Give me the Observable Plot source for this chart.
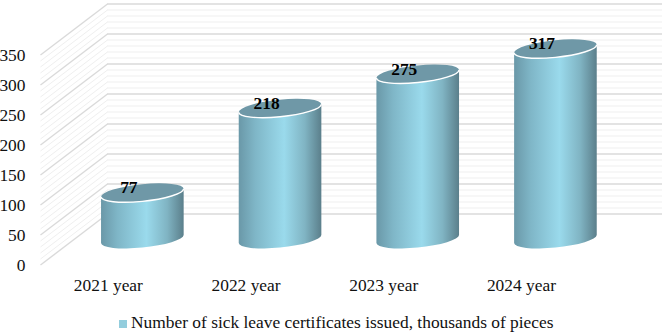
<!DOCTYPE html>
<html>
<head>
<meta charset="utf-8">
<script src="https://cdn.jsdelivr.net/npm/d3@7"></script>
<script src="https://cdn.jsdelivr.net/npm/@observablehq/plot@0.6"></script>
<style>
  html, body { margin: 0; padding: 0; background: #fff; }
  #legend { font: 17.4px "Liberation Serif", serif; color: #111; height: 28px; line-height: 28px; padding-top: 3px; white-space: nowrap; padding-left: 119px; }
  #legend i { display: inline-block; width: 8px; height: 8px; background: #93cddd; margin-right: 4px; vertical-align: 0; }
</style>
</head>
<body>
<div id="chart"></div>
<div id="legend"><i></i>Number of sick leave certificates issued, thousands of pieces</div>
<script>
const years = [2021, 2022, 2023, 2024];
const values = [77, 218, 275, 317];
const legendLabel = "Number of sick leave certificates issued, thousands of pieces";
const majorTicks = [0, 50, 100, 150, 200, 250, 300, 350];
const minorTicks = d3.range(0, 351, 10).filter(v => v % 50 !== 0);

// The oblique projection: half the wall depth expressed in each scale's units.
const halfDepthYears = 0.2433;
const halfDepthValue = 42.5;
const halfDepthPx = 25.5;

const rows = years.map((year, i) => ({year, value: values[i]}));
const domainX = [2020.2567, 2024.774];
const wallFront = domainX[0];
const wallBack = wallFront + 2 * halfDepthYears;

const defs = () => {
  const svg = d3.create("svg:defs");
  const g = svg.append("linearGradient").attr("id", "cyl").attr("x1", 0).attr("x2", 1).attr("y1", 0).attr("y2", 0);
  [[0, "#6a98a8"], [0.2, "#7fb6c7"], [0.55, "#9adaec"], [0.8, "#80b4c3"], [1, "#5b7f8b"]]
    .forEach(([o, c]) => g.append("stop").attr("offset", o).attr("stop-color", c));
  return svg.node();
};

// Replaces each bar rectangle by a tilted cylinder of the same box.
function cylinders(index, scales, vals, dims, ctx, next) {
  const g = next(index, scales, vals, dims, ctx);
  const ratio = 0.205, tilt = 5.8 * Math.PI / 180;
  d3.select(g).selectAll("rect").each(function () {
    const r = d3.select(this);
    const x = +r.attr("x"), y = +r.attr("y"), w = +r.attr("width"), h = +r.attr("height");
    const cx = x + w / 2, ex = w / 2;
    const c = Math.cos(tilt), s = Math.sin(tilt);
    const a = ex / Math.sqrt(c * c + ratio * ratio * s * s), b = a * ratio;
    const ey = (a * a - b * b) * s * c / ex;
    const rot = -5.8;
    const top = y, bot = y + h;
    const parent = d3.select(this.parentNode);
    parent.append("path").attr("fill", "url(#cyl)").attr("d",
      `M${cx - ex},${top + ey}L${cx - ex},${bot + ey}A${a},${b} ${rot} 0 0 ${cx + ex},${bot - ey}L${cx + ex},${top - ey}A${a},${b} ${rot} 0 1 ${cx - ex},${top + ey}Z`);
    parent.append("path").attr("fill", "#6f98a7").attr("d",
      `M${cx - ex},${top + ey}A${a},${b} ${rot} 0 0 ${cx + ex},${top - ey}A${a},${b} ${rot} 0 0 ${cx - ex},${top + ey}Z`);
    parent.append("path").attr("fill", "none").attr("stroke", "#fff").attr("stroke-width", 1.4).attr("d",
      `M${cx - ex},${top + ey}A${a},${b} ${rot} 0 0 ${cx + ex},${top - ey}`);
    r.remove();
  });
  return g;
}

const wall = (ticks, stroke, strokeWidth) => [
  Plot.link(ticks, {
    x1: () => wallFront, x2: () => wallBack,
    y1: v => v - halfDepthValue, y2: v => v + halfDepthValue,
    stroke, strokeWidth
  }),
  Plot.ruleY(ticks, {
    y: v => v + halfDepthValue,
    x1: () => wallBack, x2: () => domainX[1],
    stroke, strokeWidth
  })
];

const plot = Plot.plot({
  width: 662,
  height: 305,
  marginLeft: 40,
  marginRight: 0,
  marginTop: 0,
  marginBottom: 30,
  style: {fontFamily: '"Liberation Serif", serif', fontSize: "17px", color: "#111", background: "transparent"},
  x: {domain: domainX, range: [40, 662]},
  y: {domain: [0, 398.33], range: [239, 0]},
  marks: [
    defs,
    ...wall(minorTicks, "#efefef", 1),
    ...wall(majorTicks, "#dadada", 1.4),
    Plot.axisY({ticks: majorTicks, tickSize: 0, tickPadding: 15, dy: halfDepthPx, label: null, fontSize: 17.4}),
    Plot.axisX({ticks: years, anchor: "bottom", tickSize: 0, tickPadding: 3, dx: -34.5, label: null, fontSize: 17.4, tickFormat: d => `${d} year`}),
    Plot.rectY(rows, {
      x1: d => d.year - 0.3, x2: d => d.year + 0.3, y1: 0, y2: "value",
      fill: "#93cddd", inset: 0, render: cylinders
    }),
    Plot.text(rows, {x: "year", y: "value", text: d => String(d.value), dx: -14, dy: -5.5, fontWeight: "bold", fontSize: 17.4, fill: "#000"})
  ]
});
document.getElementById("chart").append(plot);
plot.style.display = "block";
</script>
</body>
</html>
